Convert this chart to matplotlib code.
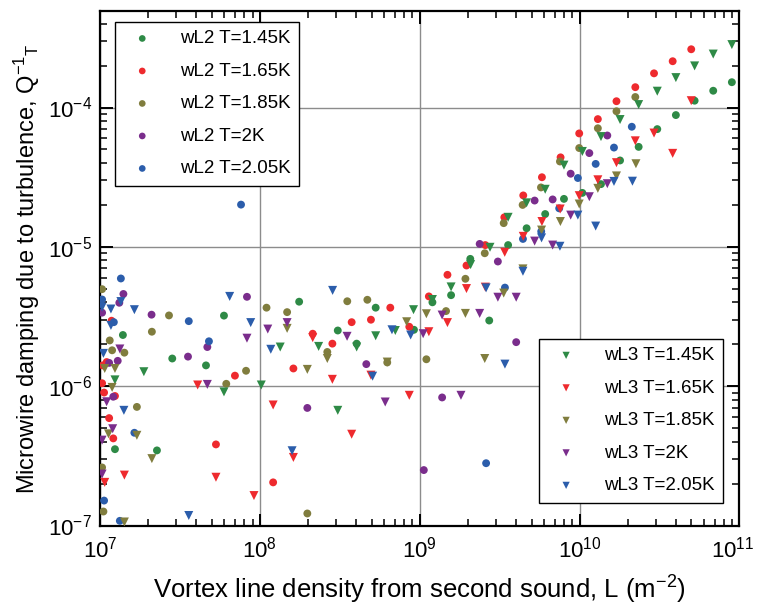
import matplotlib
matplotlib.use("Agg")
import matplotlib.pyplot as plt
import matplotlib.transforms as mtransforms
import numpy as np

plt.rcParams['font.family'] = ['Liberation Sans', 'DejaVu Sans']
plt.rcParams['mathtext.fontset'] = 'custom'
plt.rcParams['mathtext.rm'] = 'Liberation Sans'
plt.rcParams['mathtext.it'] = 'Liberation Sans:italic'
plt.rcParams['mathtext.default'] = 'regular'
plt.rcParams['axes.unicode_minus'] = False

# ---------------- data (L in m^-2, Q^-1_T) ----------------
# wL2 (circles)
wl2_145_L = [8.96e10, 6.85e10, 5.24e10, 4.0e10, 3.06e10, 2.34e10, 1.79e10, 1.36e10, 1.04e10, 7.98e9,
             6.09e9, 4.66e9, 3.57e9, 2.72e9, 2.07e9, 1.57e9, 1.20e9, 9.2e8, 5.3e8, 4.03e8,
             3.07e8, 1.76e8, 5.96e7, 4.6e7, 2.83e7, 2.27e7, 1.39e7, 1.24e7]
wl2_145_Q = [1.52e-4, 1.32e-4, 1.12e-4, 8.83e-5, 7.0e-5, 5.22e-5, 4.17e-5, 2.82e-5, 2.44e-5, 2.21e-5,
             1.72e-5, 1.36e-5, 1.03e-5, 2.96e-6, 8.2e-6, 4.5e-6, 4.0e-6, 2.54e-6, 3.66e-6, 2.02e-6,
             2.51e-6, 4.04e-6, 3.21e-6, 1.41e-6, 1.58e-6, 3.46e-7, 2.33e-6, 3.53e-7]

wl2_165_L = [4.99e10, 3.82e10, 2.92e10, 2.23e10, 1.70e10, 1.30e10, 9.94e9, 7.6e9, 5.81e9, 4.44e9,
             3.38e9, 2.57e9, 1.96e9, 1.49e9, 1.14e9, 8.6e8, 6.54e8, 4.95e8, 3.75e8, 2.84e8,
             2.14e8, 1.62e8, 1.21e8, 6.98e7, 5.31e7, 1.18e7, 1.1e7, 1.24e7, 1.14e7, 1.21e7,
             1.03e7, 1.06e7, 1.04e7]
wl2_165_Q = [2.62e-4, 2.15e-4, 1.76e-4, 1.40e-4, 1.11e-4, 8.26e-5, 6.52e-5, 4.39e-5, 3.16e-5, 2.34e-5,
             1.63e-5, 1.03e-5, 7.35e-6, 6.3e-6, 4.41e-6, 2.67e-6, 3.66e-6, 3.0e-6, 2.88e-6, 2.02e-6,
             2.38e-6, 1.34e-6, 2.04e-7, 1.19e-6, 3.82e-7, 2.95e-6, 1.49e-6, 8.5e-7, 5.9e-7, 4.22e-7,
             1.05e-6, 9.0e-7, 1.41e-6]

wl2_185_L = [2.23e10, 1.70e10, 1.30e10, 9.94e9, 7.53e9, 5.73e9, 4.40e9, 3.35e9, 2.55e9, 1.93e9,
             1.46e9, 1.10e9, 6.26e8, 4.7e8, 3.52e8, 2.64e8, 1.98e8, 1.48e8, 1.10e8, 8.19e7,
             6.16e7, 2.7e7, 2.11e7, 1.70e7, 1.42e7, 1.19e7, 1.15e7, 1.05e7, 1.03e7, 1.03e7]
wl2_185_Q = [1.19e-4, 9.4e-5, 7.1e-5, 5.12e-5, 4.1e-5, 2.67e-5, 2.0e-5, 1.48e-5, 9.0e-6, 5.9e-6,
             3.46e-6, 1.56e-6, 1.48e-6, 4.17e-6, 4.07e-6, 1.76e-6, 1.22e-7, 3.4e-6, 3.66e-6, 1.29e-6,
             1.04e-6, 3.22e-6, 2.46e-6, 7.1e-7, 1.74e-6, 1.81e-6, 2.13e-6, 1.26e-7, 4.97e-6, 2.61e-7]

wl2_200_L = [1.49e10, 1.15e10, 8.79e9, 6.78e9, 5.23e9, 4.01e9, 3.08e9, 2.37e9, 1.38e9, 1.06e9,
             4.63e8, 1.98e8, 8.3e7, 4.69e7, 3.55e7, 2.1e7, 1.4e7, 1.32e7, 1.29e7, 1.14e7,
             1.21e7, 1.03e7]
wl2_200_Q = [6.3e-5, 4.71e-5, 3.35e-5, 2.19e-5, 2.15e-5, 2.07e-6, 7.85e-6, 1.05e-5, 8.3e-7, 2.5e-7,
             1.44e-6, 6.98e-7, 4.38e-6, 1.91e-6, 1.63e-6, 3.26e-6, 4.59e-6, 3.97e-6, 1.52e-6, 1.47e-6,
             8.4e-7, 3.37e-6]

wl2_205_L = [2.12e10, 1.64e10, 1.26e10, 9.75e9, 7.45e9, 5.75e9, 4.42e9, 3.41e9, 2.6e9, 7.62e7,
             4.8e7, 3.59e7, 1.64e7, 1.35e7, 1.22e7, 1.33e7, 1.06e7, 1.03e7]
wl2_205_Q = [7.28e-5, 5.16e-5, 3.94e-5, 3.12e-5, 1.89e-5, 1.29e-5, 1.14e-5, 5.1e-6, 2.8e-7, 2.01e-5,
             2.1e-6, 2.93e-6, 4.63e-7, 5.93e-6, 2.88e-6, 1.08e-7, 1.51e-7, 4.19e-6]

# wL3 (down triangles)
wl3_145_L = [8.96e10, 6.85e10, 5.24e10, 4.0e10, 3.06e10, 2.34e10, 1.79e10, 1.36e10, 1.04e10, 7.98e9,
             6.09e9, 4.66e9, 3.57e9, 2.75e9, 2.08e9, 1.57e9, 1.20e9, 9.14e8, 7.03e8, 5.3e8,
             4.03e8, 3.07e8, 2.33e8, 1.34e8, 1.02e8, 5.96e7, 1.88e7, 1.24e7]
wl3_145_Q = [2.83e-4, 2.42e-4, 1.99e-4, 1.64e-4, 1.31e-4, 1.05e-4, 8.2e-5, 6.19e-5, 4.84e-5, 3.86e-5,
             2.59e-5, 2.07e-5, 1.63e-5, 9.93e-6, 7.46e-6, 5.16e-6, 4.19e-6, 3.54e-6, 2.51e-6, 2.3e-6,
             1.91e-6, 6.71e-7, 1.93e-6, 1.91e-6, 1.02e-6, 9.1e-7, 1.27e-6, 1.11e-6]

wl3_165_L = [4.99e10, 3.82e10, 2.92e10, 2.23e10, 1.70e10, 1.30e10, 9.94e9, 7.56e9, 5.81e9, 4.44e9,
             3.4e9, 2.57e9, 1.96e9, 1.49e9, 1.14e9, 8.6e8, 4.95e8, 3.75e8, 2.84e8, 2.14e8,
             1.62e8, 1.21e8, 9.18e7, 5.31e7, 4.08e7, 1.42e7, 1.07e7]
wl3_165_Q = [1.12e-4, 4.69e-5, 6.56e-5, 5.77e-5, 4.02e-5, 3.03e-5, 2.33e-5, 1.87e-5, 1.52e-5, 1.19e-5,
             9.14e-6, 5.14e-6, 5.02e-6, 2.86e-6, 2.46e-6, 8.6e-7, 1.2e-6, 4.52e-7, 1.12e-6, 2.23e-6,
             3.08e-7, 7.33e-7, 1.64e-7, 2.22e-7, 1.02e-6, 2.3e-7, 2.04e-7]

wl3_185_L = [2.25e10, 1.70e10, 1.30e10, 9.94e9, 7.58e9, 5.78e9, 4.42e9, 3.35e9, 2.55e9, 1.93e9,
             1.10e9, 8.28e8, 6.26e8, 2.64e8, 1.98e8, 1.48e8, 2.11e7, 1.70e7, 1.13e7, 1.24e7,
             1.19e7, 1.42e7, 1.07e7]
wl3_185_Q = [3.95e-5, 3.23e-5, 2.63e-5, 2.03e-5, 1.52e-5, 1.32e-5, 6.95e-6, 4.66e-6, 1.58e-6, 3.33e-6,
             3.31e-6, 2.9e-6, 1.49e-6, 1.58e-6, 1.32e-6, 2.6e-6, 3.02e-7, 4.44e-7, 4.55e-7, 1.34e-6,
             9.8e-7, 1.06e-7, 1.34e-6]

wl3_200_L = [1.49e10, 1.15e10, 8.79e9, 6.78e9, 5.23e9, 4.01e9, 3.08e9, 2.37e9, 1.81e9, 1.38e9,
             1.05e9, 6.08e8, 3.51e8, 1.48e8, 1.12e8, 8.3e7, 4.69e7, 1.33e7, 1.1e7, 1.2e7,
             1.03e7, 1.03e7]
wl3_200_Q = [2.84e-5, 2.29e-5, 1.69e-5, 1.03e-5, 1.1e-5, 4.35e-6, 4.35e-6, 3.33e-6, 8.6e-7, 3.24e-6,
             2.38e-6, 7.7e-7, 2.28e-6, 2.86e-6, 2.57e-6, 2.21e-6, 1.03e-6, 1.85e-6, 7.73e-7, 4.95e-7,
             4.1e-7, 2.34e-7]

wl3_205_L = [2.14e10, 1.64e10, 1.26e10, 9.75e9, 7.53e9, 5.78e9, 4.42e9, 3.41e9, 2.6e9, 8.77e8,
             6.7e8, 5.07e8, 2.85e8, 1.59e8, 1.17e8, 8.76e7, 6.47e7, 3.59e7, 1.64e7, 1.41e7,
             1.35e7, 1.17e7, 1.17e7, 1.03e7, 1.05e7]
wl3_205_Q = [2.96e-5, 2.95e-5, 1.41e-5, 1.69e-5, 1.01e-5, 1.16e-5, 6.68e-6, 1.44e-6, 5.08e-6, 2.33e-6,
             2.54e-6, 1.18e-6, 4.87e-6, 3.44e-7, 1.84e-6, 2.86e-6, 4.41e-6, 1.18e-7, 3.54e-6, 6.71e-7,
             4.05e-6, 3.58e-6, 2.73e-6, 3.69e-6, 1.72e-6]

temps = ['1.45K', '1.65K', '1.85K', '2K', '2.05K']
colors = ['#2e8a46', '#ee2a2e', '#807d3e', '#7a2d8c', '#2b5dab']
x_ticks = [1e7, 1e8, 1e9, 1e10, 1e11]
x_ticklabels = ['10$^{7}$', '10$^{8}$', '10$^{9}$', '10$^{10}$', '10$^{11}$']

wl2 = [(wl2_145_L, wl2_145_Q), (wl2_165_L, wl2_165_Q), (wl2_185_L, wl2_185_Q),
       (wl2_200_L, wl2_200_Q), (wl2_205_L, wl2_205_Q)]
wl3 = [(wl3_145_L, wl3_145_Q), (wl3_165_L, wl3_165_Q), (wl3_185_L, wl3_185_Q),
       (wl3_200_L, wl3_200_Q), (wl3_205_L, wl3_205_Q)]

fig = plt.figure(figsize=(7.59, 6.05), dpi=100)
ax = fig.add_axes([0.1318, 0.1314, 0.8425, 0.8504])

h2, h3 = [], []
for (L, Q), c, t in zip(wl2, colors, temps):
    h2.append(ax.scatter(L, Q, s=32, marker='o', color=c, edgecolors='none', label=f'wL2 T={t}', zorder=3))
for (L, Q), c, t in zip(wl3, colors, temps):
    h3.append(ax.scatter(L, Q, s=42, marker='v', color=c, edgecolors='none', label=f'wL3 T={t}', zorder=3))

ax.set_xscale('log')
ax.set_yscale('log')
ax.set_xlim(1e7, 1e11)
ax.set_ylim(1e-7, 4.93e-4)
ax.set_xticks(x_ticks)
ax.set_xticklabels(x_ticklabels)

ax.grid(True, which='major', color='#8c8c8c', linewidth=1.0)
ax.set_axisbelow(True)
for sp in ax.spines.values():
    sp.set_linewidth(1.6)
    sp.set_color('black')
ax.tick_params(which='both', direction='in', top=True, right=True, labelsize=16)
ax.tick_params(axis='x', which='both', pad=8)
ax.tick_params(axis='y', which='both', pad=6)
ax.tick_params(which='major', length=9, width=1.4)
ax.tick_params(which='minor', length=5, width=1.1)

# keep the last x tick label (10^11) inside the figure edge
last_tick = ax.xaxis.get_major_ticks()[-1]
last_tick.label1.set_transform(last_tick.label1.get_transform() +
                               mtransforms.ScaledTranslation(-5 / 72, 0, fig.dpi_scale_trans))

ax.set_xlabel('Vortex line density from second sound, L (m$^{-2}$)', fontsize=18.5, labelpad=8)
ax.set_ylabel('Microwire damping due to turbulence, Q$^{-1}$$_{T}$', fontsize=17)
ax.yaxis.set_label_coords(-0.09, 0.5)

leg_kw = dict(fontsize=13.5, frameon=True, fancybox=False, edgecolor='black', framealpha=1,
              borderpad=0.45, labelspacing=0.82, handlelength=2.0, handletextpad=1.0,
              borderaxespad=0)
leg1 = ax.legend(handles=h2, loc='upper left', bbox_to_anchor=(0.0235, 0.979),
                 markerscale=0.85, **leg_kw)
leg1.get_frame().set_linewidth(1.0)
ax.add_artist(leg1)
leg2 = ax.legend(handles=h3, loc='lower right', bbox_to_anchor=(0.9737, 0.0443),
                 markerscale=0.8, **leg_kw)
leg2.get_frame().set_linewidth(1.0)

fig.savefig('out.png', dpi=100)
